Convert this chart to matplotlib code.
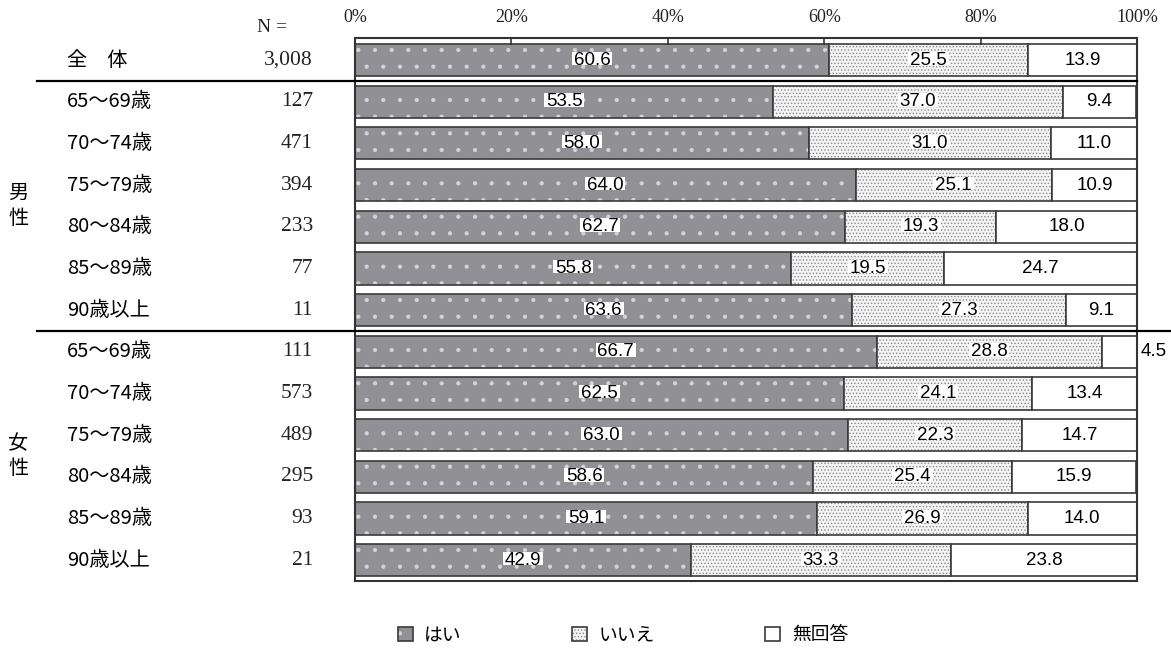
import numpy as np
import matplotlib.pyplot as plt
import matplotlib.transforms as mtransforms
from matplotlib.lines import Line2D
from matplotlib.patches import Patch
from matplotlib.path import Path

plt.rcParams['font.family'] = ['Noto Sans CJK JP', 'DejaVu Sans']
plt.rcParams['hatch.linewidth'] = 0.6

# rows: total, then men and women by age group
labels = ['全　体', '65～69歳', '70～74歳', '75～79歳', '80～84歳', '85～89歳', '90歳以上',
          '65～69歳', '70～74歳', '75～79歳', '80～84歳', '85～89歳', '90歳以上']
n_values = ['3,008', '127', '471', '394', '233', '77', '11',
            '111', '573', '489', '295', '93', '21']
yes = [60.6, 53.5, 58.0, 64.0, 62.7, 55.8, 63.6, 66.7, 62.5, 63.0, 58.6, 59.1, 42.9]
no = [25.5, 37.0, 31.0, 25.1, 19.3, 19.5, 27.3, 28.8, 24.1, 22.3, 25.4, 26.9, 33.3]
no_answer = [13.9, 9.4, 11.0, 10.9, 18.0, 24.7, 9.1, 4.5, 13.4, 14.7, 15.9, 14.0, 23.8]
series_names = ['はい', 'いいえ', '無回答']
groups = ['男\n性', '女\n性']
group_rows = [3.5, 9.5]
xticks = [0, 20, 40, 60, 80, 100]

# fill colour, hatch, hatch colour for each answer
styles = [('#909095', '.', '#d4d4d8'),
          ('#f4f4f4', '.....', '#8a8a8a'),
          ('white', None, 'white')]
edge = '#3a3a3a'


def tight_box(x0, y0, width, height, mutation_size):
    # white box that hugs the digits (drops the descender area)
    d = 0.2 * mutation_size
    px = 0.1 * mutation_size
    return Path([(x0 - px, y0 + d), (x0 + width + px, y0 + d),
                 (x0 + width + px, y0 + height), (x0 - px, y0 + height),
                 (x0 - px, y0 + d)], closed=True)


fig = plt.figure(figsize=(11.71, 6.49), dpi=100)
ax = fig.add_axes([0.3032, 0.1048, 0.6678, 0.8366])

y = np.arange(len(labels))
left = np.zeros(len(labels))
for k, (vals, (face, hatch, hcol)) in enumerate(zip([yes, no, no_answer], styles)):
    vals = np.array(vals)
    ax.barh(y, vals, left=left, height=0.77, color=face, edgecolor=hcol,
            hatch=hatch, linewidth=0)
    ax.barh(y, vals, left=left, height=0.77, fill=False, edgecolor=edge,
            linewidth=1.2)
    for i, v in enumerate(vals):
        box = dict(boxstyle=tight_box, facecolor='white', edgecolor='none') if k < 2 else None
        if k == 2 and v < 5:
            ax.text(100.4, i, f'{v:.1f}', ha='left', va='center', fontsize=13.5,
                    family='Liberation Sans', clip_on=False)
        else:
            ax.text(left[i] + v / 2, i, f'{v:.1f}', ha='center', va='center',
                    fontsize=13.5, family='Liberation Sans', bbox=box)
    left += vals

ax.set_xlim(0, 100)
ax.set_ylim(12.5, -0.53)
ax.xaxis.tick_top()
ax.set_xticks(xticks)
ax.set_xticklabels([f'{t}%' for t in xticks], family='Liberation Serif', fontsize=13)
ax.tick_params(axis='x', direction='in', length=5, width=1.2, pad=9, colors='#333333')
ax.tick_params(axis='x', labelcolor='#222222')
ax.set_yticks([])
for s in ax.spines.values():
    s.set_linewidth(1.5)
    s.set_color('#333333')

# left side: row labels, sample sizes, sex groups
trans = mtransforms.blended_transform_factory(fig.transFigure, ax.transData)
for i, (lab, n) in enumerate(zip(labels, n_values)):
    fig.text(0.0572, i, lab, transform=trans, ha='left', va='center', fontsize=14.5)
    fig.text(0.2673, i, n, transform=trans, ha='right', va='center', fontsize=15.5,
             family='Liberation Serif', color='#222222')
for g, r in zip(groups, group_rows):
    fig.text(0.0154, r, g, transform=trans, ha='center', va='center', fontsize=14.5,
             linespacing=1.2)
fig.text(0.2195, 0.957, 'N =', ha='left', va='center', fontsize=14,
         family='Liberation Serif', color='#222222')

fig.add_artist(Line2D([0.0316, 0.971], [0.5, 0.5], transform=trans, color='black', lw=1.6))
fig.add_artist(Line2D([0.0316, 1.0], [6.5, 6.5], transform=trans, color='black', lw=1.6))

handles = []
for face, hatch, hcol in styles:
    handles.append((Patch(facecolor=face, edgecolor=hcol, hatch=hatch, linewidth=0),
                    Patch(fill=False, edgecolor=edge, linewidth=1.2)))
fig.legend(handles, series_names, loc='center', bbox_to_anchor=(0.532, 0.022), ncol=3,
           frameon=False, fontsize=13.5, handlelength=0.8, handleheight=0.8,
           handletextpad=0.6, columnspacing=5.9)

fig.savefig('out.png', dpi=100)
